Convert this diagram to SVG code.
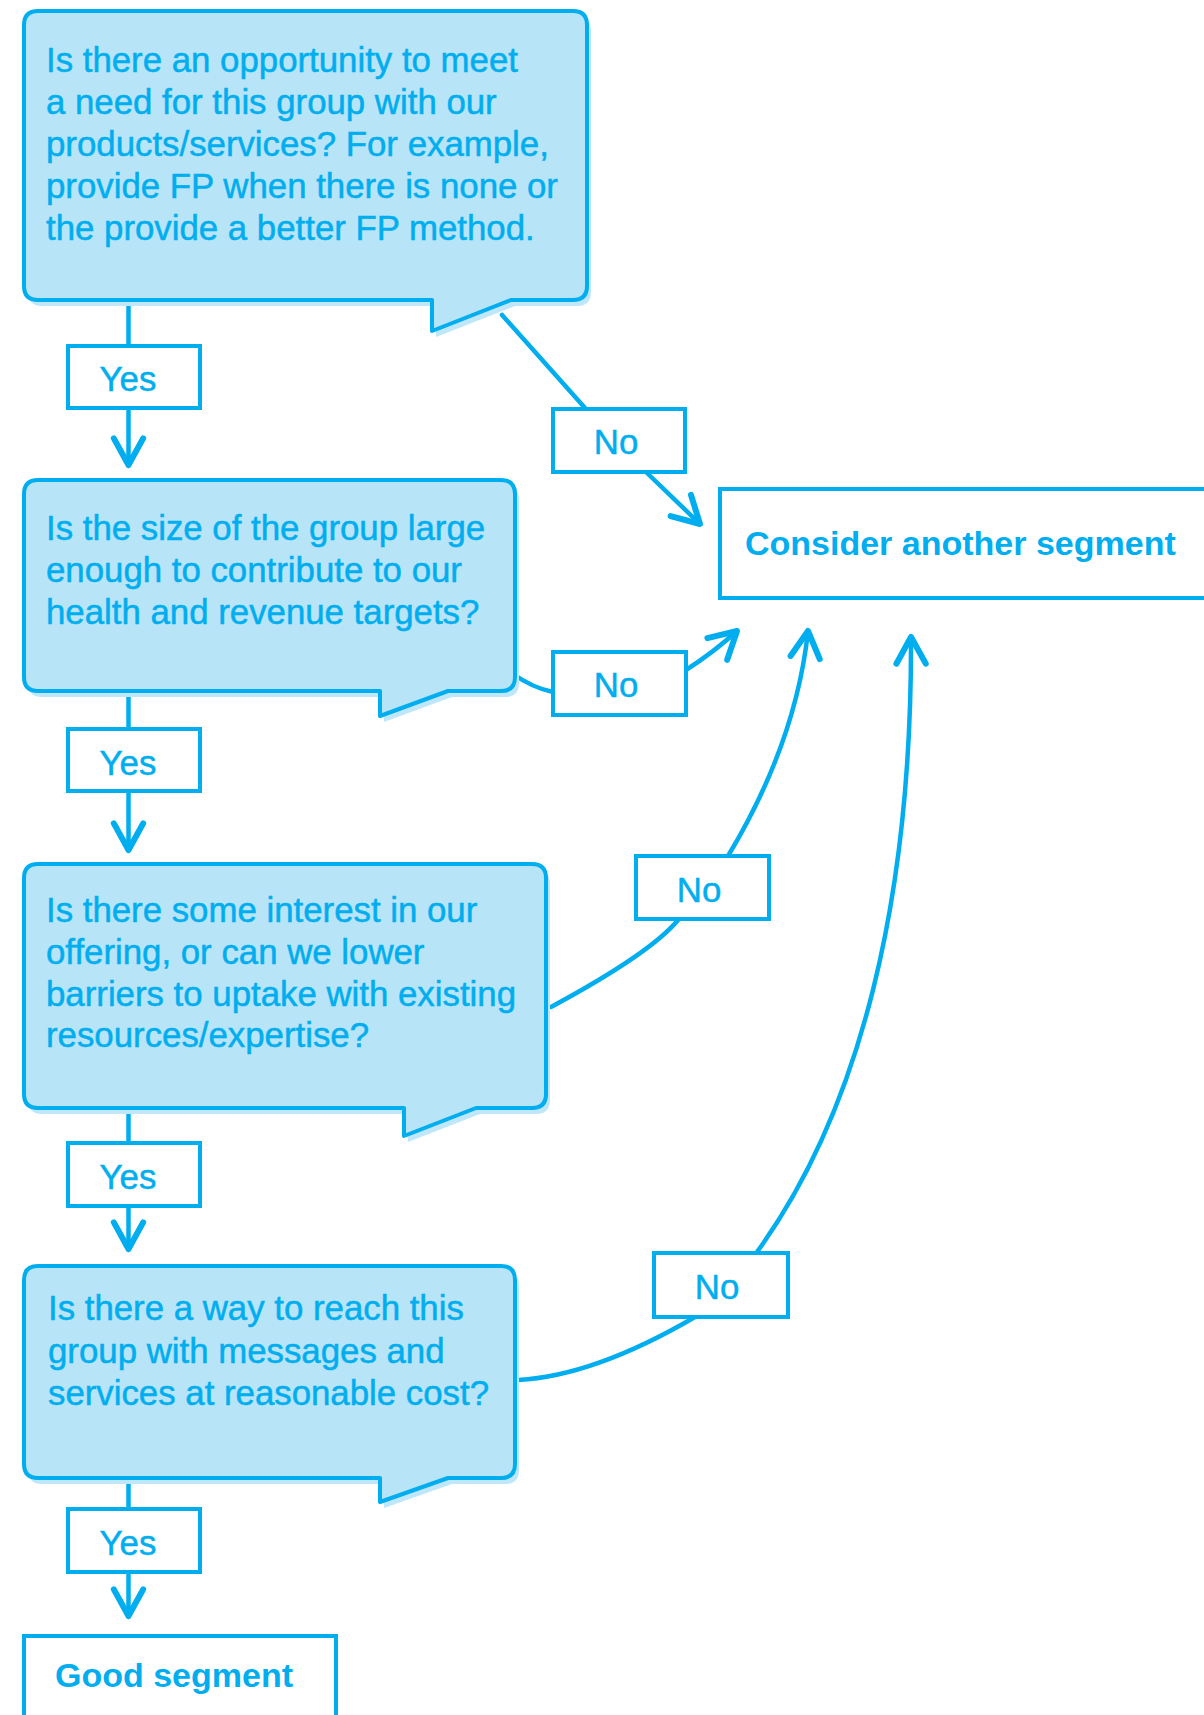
<svg xmlns="http://www.w3.org/2000/svg" width="1204" height="1715" viewBox="0 0 1204 1715">
<defs>
<style>
.bub{fill:#B8E4F8;stroke:#00AEEF;stroke-width:4;stroke-linejoin:round}
.sh{fill:#BFE7F9;stroke:none}
.lab{fill:#FFFFFF;stroke:#00AEEF;stroke-width:4}
.q{font-family:"Liberation Sans",Arial,sans-serif;font-size:34.8px;fill:#00AEEF;stroke:#00AEEF;stroke-width:0.5}
.lt{font-family:"Liberation Sans",Arial,sans-serif;font-size:34.8px;fill:#00AEEF;stroke:#00AEEF;stroke-width:0.5;text-anchor:middle}
.bt{font-family:"Liberation Sans",Arial,sans-serif;font-size:34px;font-weight:bold;fill:#00AEEF}
.c{fill:none;stroke:#00AEEF;stroke-width:4.5;stroke-linecap:round}
.ca{fill:none;stroke:#00AEEF;stroke-width:4.5;stroke-linecap:round;marker-end:url(#ah)}
</style>
<marker id="ah" markerUnits="userSpaceOnUse" markerWidth="40" markerHeight="40" refX="0" refY="0" viewBox="-25 -15 30 30" orient="auto" overflow="visible">
<path d="M -20,-11 L 0,0 L -20,11" fill="none" stroke="#00AEEF" stroke-width="4.5" stroke-linecap="round" stroke-linejoin="round"/>
</marker>
</defs>
<rect width="1204" height="1715" fill="#FFFFFF"/>

<g id="connectors">
<line class="c" x1="128.5" y1="300" x2="128.5" y2="346"/>
<line class="ca" x1="128.5" y1="408" x2="128.5" y2="465"/>
<line class="c" x1="128.5" y1="691" x2="128.5" y2="729"/>
<line class="ca" x1="128.5" y1="791" x2="128.5" y2="850"/>
<line class="c" x1="128.5" y1="1108" x2="128.5" y2="1143"/>
<line class="ca" x1="128.5" y1="1206" x2="128.5" y2="1249"/>
<line class="c" x1="128.5" y1="1478" x2="128.5" y2="1509"/>
<line class="ca" x1="128.5" y1="1572" x2="128.5" y2="1616"/>

<line class="c" x1="502" y1="315" x2="585" y2="408"/>
<line class="ca" x1="646" y1="472" x2="700" y2="524"/>

<path class="c" d="M 513,674 Q 533,688 553,692"/>
<path class="ca" d="M 686,670 Q 714,652 737,631"/>

<path class="c" d="M 551,1007 Q 651,953 678,920"/>
<path class="ca" d="M 728,856 Q 796,743 808,631"/>

<path class="c" d="M 518,1380 Q 594,1376 695,1317"/>
<path class="ca" d="M 757,1252 C 860,1110 912,900 911,637"/>
</g>

<g id="q1">
<path class="sh" transform="translate(4,6)" d="M 38,11 H 573 Q 587,11 587,25 V 286 Q 587,300 573,300 H 511 L 432,331 V 300 H 38 Q 24,300 24,286 V 25 Q 24,11 38,11 Z"/>
<path class="bub" d="M 38,11 H 573 Q 587,11 587,25 V 286 Q 587,300 573,300 H 511 L 432,331 V 300 H 38 Q 24,300 24,286 V 25 Q 24,11 38,11 Z"/>
<text class="q" x="46" y="72">Is there an opportunity to meet</text>
<text class="q" x="46" y="114">a need for this group with our</text>
<text class="q" x="46" y="156">products/services? For example,</text>
<text class="q" x="46" y="198">provide FP when there is none or</text>
<text class="q" x="46" y="240">the provide a better FP method.</text>
</g>

<g id="q2">
<path class="sh" transform="translate(4,6)" d="M 38,480 H 501 Q 515,480 515,494 V 677 Q 515,691 501,691 H 448 L 380,716 V 691 H 38 Q 24,691 24,677 V 494 Q 24,480 38,480 Z"/>
<path class="bub" d="M 38,480 H 501 Q 515,480 515,494 V 677 Q 515,691 501,691 H 448 L 380,716 V 691 H 38 Q 24,691 24,677 V 494 Q 24,480 38,480 Z"/>
<text class="q" x="46" y="540">Is the size of the group large</text>
<text class="q" x="46" y="582">enough to contribute to our</text>
<text class="q" x="46" y="624">health and revenue targets?</text>
</g>

<g id="q3">
<path class="sh" transform="translate(4,6)" d="M 38,864 H 532 Q 546,864 546,878 V 1094 Q 546,1108 532,1108 H 476 L 404,1136 V 1108 H 38 Q 24,1108 24,1094 V 878 Q 24,864 38,864 Z"/>
<path class="bub" d="M 38,864 H 532 Q 546,864 546,878 V 1094 Q 546,1108 532,1108 H 476 L 404,1136 V 1108 H 38 Q 24,1108 24,1094 V 878 Q 24,864 38,864 Z"/>
<text class="q" x="46" y="922">Is there some interest in our</text>
<text class="q" x="46" y="964">offering, or can we lower</text>
<text class="q" x="46" y="1006">barriers to uptake with existing</text>
<text class="q" x="46" y="1047">resources/expertise?</text>
</g>

<g id="q4">
<path class="sh" transform="translate(4,6)" d="M 38,1266 H 501 Q 515,1266 515,1280 V 1464 Q 515,1478 501,1478 H 448 L 380,1502 V 1478 H 38 Q 24,1478 24,1464 V 1280 Q 24,1266 38,1266 Z"/>
<path class="bub" d="M 38,1266 H 501 Q 515,1266 515,1280 V 1464 Q 515,1478 501,1478 H 448 L 380,1502 V 1478 H 38 Q 24,1478 24,1464 V 1280 Q 24,1266 38,1266 Z"/>
<text class="q" x="48" y="1320">Is there a way to reach this</text>
<text class="q" x="48" y="1363">group with messages and</text>
<text class="q" x="48" y="1405">services at reasonable cost?</text>
</g>

<g id="yes1"><rect class="lab" x="68" y="346" width="132" height="62"/><text class="lt" x="128" y="391">Yes</text></g>
<g id="yes2"><rect class="lab" x="68" y="729" width="132" height="62"/><text class="lt" x="128" y="775">Yes</text></g>
<g id="yes3"><rect class="lab" x="68" y="1143" width="132" height="63"/><text class="lt" x="128" y="1189">Yes</text></g>
<g id="yes4"><rect class="lab" x="68" y="1509" width="132" height="63"/><text class="lt" x="128" y="1555">Yes</text></g>

<g id="no1"><rect class="lab" x="553" y="409" width="132" height="63"/><text class="lt" x="616" y="454">No</text></g>
<g id="no2"><rect class="lab" x="553" y="652" width="133" height="63"/><text class="lt" x="616" y="697">No</text></g>
<g id="no3"><rect class="lab" x="636" y="856" width="133" height="63"/><text class="lt" x="699" y="902">No</text></g>
<g id="no4"><rect class="lab" x="654" y="1253" width="134" height="64"/><text class="lt" x="717" y="1299">No</text></g>

<g id="consider">
<path d="M 1210,489 H 720 V 598 H 1210" fill="#FFFFFF" stroke="#00AEEF" stroke-width="4"/>
<text class="bt" x="745" y="555">Consider another segment</text>
</g>

<g id="good">
<path d="M 24,1725 V 1636 H 336 V 1725" fill="#FFFFFF" stroke="#00AEEF" stroke-width="4"/>
<text class="bt" x="55" y="1687">Good segment</text>
</g>
</svg>
